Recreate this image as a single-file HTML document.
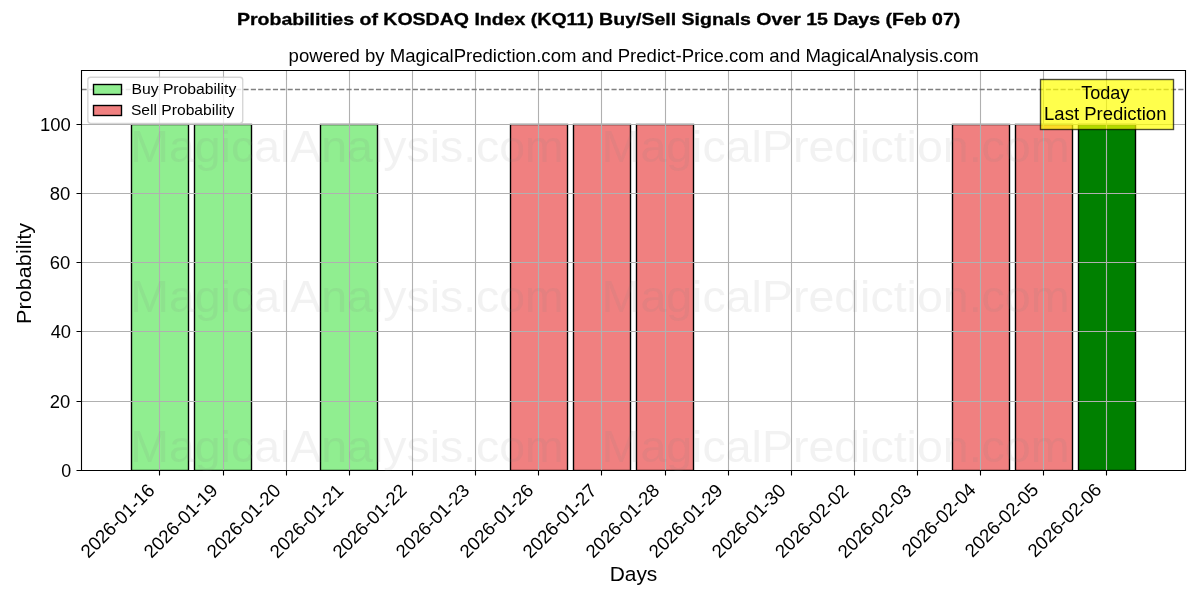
<!DOCTYPE html>
<html><head><meta charset="utf-8"><title>Probabilities of KOSDAQ Index (KQ11) Buy/Sell Signals</title>
<style>
html,body{margin:0;padding:0;background:#fff;width:1200px;height:600px;overflow:hidden}
svg{display:block;will-change:transform}
svg text{font-family:"Liberation Sans",sans-serif}
</style></head>
<body>
<svg width="1200" height="600" viewBox="0 0 1200 600">
<defs><clipPath id="ax"><rect x="81" y="70" width="1104" height="400"/></clipPath></defs>
<rect width="1200" height="600" fill="#fff"/>
<rect x="131.5" y="124.5" width="57" height="346" fill="#90ee90" stroke="#000" stroke-width="1.389" clip-path="url(#ax)"/>
<rect x="194.5" y="124.5" width="57" height="346" fill="#90ee90" stroke="#000" stroke-width="1.389" clip-path="url(#ax)"/>
<rect x="320.5" y="124.5" width="57" height="346" fill="#90ee90" stroke="#000" stroke-width="1.389" clip-path="url(#ax)"/>
<rect x="510.5" y="124.5" width="57" height="346" fill="#f08080" stroke="#000" stroke-width="1.389" clip-path="url(#ax)"/>
<rect x="573.5" y="124.5" width="57" height="346" fill="#f08080" stroke="#000" stroke-width="1.389" clip-path="url(#ax)"/>
<rect x="636.5" y="124.5" width="57" height="346" fill="#f08080" stroke="#000" stroke-width="1.389" clip-path="url(#ax)"/>
<rect x="952.5" y="124.5" width="57" height="346" fill="#f08080" stroke="#000" stroke-width="1.389" clip-path="url(#ax)"/>
<rect x="1015.5" y="124.5" width="57" height="346" fill="#f08080" stroke="#000" stroke-width="1.389" clip-path="url(#ax)"/>
<rect x="1078.5" y="124.5" width="57" height="346" fill="#008000" stroke="#000" stroke-width="1.389" clip-path="url(#ax)"/>
<path d="M159.5 470.5V70.5M223.5 470.5V70.5M286.5 470.5V70.5M349.5 470.5V70.5M412.5 470.5V70.5M475.5 470.5V70.5M538.5 470.5V70.5M601.5 470.5V70.5M665.5 470.5V70.5M728.5 470.5V70.5M791.5 470.5V70.5M854.5 470.5V70.5M917.5 470.5V70.5M980.5 470.5V70.5M1043.5 470.5V70.5M1106.5 470.5V70.5M81.5 470.5H1185.5M81.5 401.5H1185.5M81.5 331.5H1185.5M81.5 262.5H1185.5M81.5 193.5H1185.5M81.5 124.5H1185.5" stroke="#b0b0b0" stroke-width="1.111" stroke-linecap="square" fill="none" clip-path="url(#ax)"/>
<path d="M81.5 89.5H1185.5" stroke="#808080" stroke-width="1.389" stroke-dasharray="5.139 2.222" fill="none" clip-path="url(#ax)"/>
<path d="M81.5 470.5V70.5M1185.5 470.5V70.5M81.5 470.5H1185.5M81.5 70.5H1185.5" stroke="#000" stroke-width="1.111" stroke-linecap="square" fill="none"/>
<path d="M159.5 470V475.5M223.5 470V475.5M286.5 470V475.5M349.5 470V475.5M412.5 470V475.5M475.5 470V475.5M538.5 470V475.5M601.5 470V475.5M665.5 470V475.5M728.5 470V475.5M791.5 470V475.5M854.5 470V475.5M917.5 470V475.5M980.5 470V475.5M1043.5 470V475.5M1106.5 470V475.5M81 470.5H76.5M81 401.5H76.5M81 331.5H76.5M81 262.5H76.5M81 193.5H76.5M81 124.5H76.5" stroke="#000" stroke-width="1.111" fill="none"/>
<text id="yt0" transform="translate(66.25 470.50) scale(1.0737 1.1004) translate(-4.65 5.70)" font-size="16.667" fill="#000">0</text>
<text id="yt20" transform="translate(60.00 401.50) scale(1.1041 1.0753) translate(-9.35 5.75)" font-size="16.667" fill="#000">20</text>
<text id="yt40" transform="translate(60.75 331.50) scale(1.1021 1.0684) translate(-9.15 5.70)" font-size="16.667" fill="#000">40</text>
<text id="yt60" transform="translate(60.00 262.50) scale(1.1074 1.0684) translate(-9.35 5.70)" font-size="16.667" fill="#000">60</text>
<text id="yt80" transform="translate(60.00 193.50) scale(1.1085 1.0684) translate(-9.30 5.70)" font-size="16.667" fill="#000">80</text>
<text id="yt100" transform="translate(55.75 124.50) scale(1.1080 1.1325) translate(-14.20 5.70)" font-size="16.667" fill="#000">100</text>
<text id="xt0" transform="translate(117.50 520.75) rotate(-45) scale(1.1188 1.1388) translate(-42.65 5.75)" font-size="16.667" fill="#000">2026-01-16</text>
<text id="xt1" transform="translate(180.75 520.75) rotate(-45) scale(1.1173 1.1230) translate(-42.65 5.75)" font-size="16.667" fill="#000">2026-01-19</text>
<text id="xt2" transform="translate(243.75 520.75) rotate(-45) scale(1.1168 1.1230) translate(-42.70 5.75)" font-size="16.667" fill="#000">2026-01-20</text>
<text id="xt3" transform="translate(306.50 521.00) rotate(-45) scale(1.1143 1.1230) translate(-42.60 5.75)" font-size="16.667" fill="#000">2026-01-21</text>
<text id="xt4" transform="translate(369.50 521.00) rotate(-45) scale(1.1240 1.1071) translate(-42.60 5.75)" font-size="16.667" fill="#000">2026-01-22</text>
<text id="xt5" transform="translate(432.50 520.75) rotate(-45) scale(1.1154 1.0912) translate(-42.65 5.75)" font-size="16.667" fill="#000">2026-01-23</text>
<text id="xt6" transform="translate(496.50 520.75) rotate(-45) scale(1.1188 1.1071) translate(-42.65 5.75)" font-size="16.667" fill="#000">2026-01-26</text>
<text id="xt7" transform="translate(559.50 521.00) rotate(-45) scale(1.1157 1.1388) translate(-42.60 5.75)" font-size="16.667" fill="#000">2026-01-27</text>
<text id="xt8" transform="translate(622.50 520.75) rotate(-45) scale(1.1177 1.1071) translate(-42.65 5.75)" font-size="16.667" fill="#000">2026-01-28</text>
<text id="xt9" transform="translate(685.75 520.75) rotate(-45) scale(1.1173 1.1230) translate(-42.65 5.75)" font-size="16.667" fill="#000">2026-01-29</text>
<text id="xt10" transform="translate(748.75 520.75) rotate(-45) scale(1.1168 1.1230) translate(-42.70 5.75)" font-size="16.667" fill="#000">2026-01-30</text>
<text id="xt11" transform="translate(811.75 521.00) rotate(-45) scale(1.1128 1.1230) translate(-42.60 5.75)" font-size="16.667" fill="#000">2026-02-02</text>
<text id="xt12" transform="translate(874.50 521.00) rotate(-45) scale(1.1154 1.1230) translate(-42.65 5.75)" font-size="16.667" fill="#000">2026-02-03</text>
<text id="xt13" transform="translate(938.75 519.75) rotate(-45) scale(1.1161 1.1230) translate(-42.80 5.75)" font-size="16.667" fill="#000">2026-02-04</text>
<text id="xt14" transform="translate(1001.50 520.00) rotate(-45) scale(1.1140 1.1230) translate(-42.65 5.75)" font-size="16.667" fill="#000">2026-02-05</text>
<text id="xt15" transform="translate(1064.50 520.00) rotate(-45) scale(1.1188 1.1071) translate(-42.65 5.75)" font-size="16.667" fill="#000">2026-02-06</text>
<text id="xlab" transform="translate(634.00 576.00) scale(1.0765 1.0628) translate(-22.60 4.70)" font-size="19.444" fill="#000">Days</text>
<text id="ylab" transform="translate(25.50 272.50) rotate(-90) scale(1.1143 1.0709) translate(-46.15 5.05)" font-size="19.444" fill="#000">Probability</text>
<rect x="1040.5" y="79.5" width="133" height="50" fill="#ff0" fill-opacity="0.7" stroke="#000" stroke-opacity="0.7" stroke-width="1.389"/>
<text id="tb0" transform="translate(1105.50 94.50) scale(1.0853 1.1426) translate(-22.40 4.30)" font-size="16.667" fill="#000">Today</text>
<text id="tb1" transform="translate(1105.50 113.50) scale(1.1109 1.0961) translate(-55.30 5.95)" font-size="16.667" fill="#000">Last Prediction</text>
<text id="title" transform="translate(633.75 57.50) scale(1.1139 1.0650) translate(-309.85 4.30)" font-size="16.667" fill="#000">powered by MagicalPrediction.com and Predict-Price.com and MagicalAnalysis.com</text>
<rect x="87.847" y="77.278" width="154.875" height="46.056" rx="2.7778" fill="#fff" fill-opacity="0.8" stroke="#ccc" stroke-opacity="0.8" stroke-width="1.389"/>
<rect x="93.5" y="84.5" width="28" height="10" fill="#90ee90" stroke="#000" stroke-width="1.389"/>
<rect x="93.5" y="105.5" width="28" height="10" fill="#f08080" stroke="#000" stroke-width="1.389"/>
<text id="legBuy" transform="translate(184.50 90.00) scale(1.1322 1.0650) translate(-46.85 3.60)" font-size="13.889" fill="#000">Buy Probability</text>
<text id="legSel" transform="translate(183.00 111.00) scale(1.1259 1.0495) translate(-46.25 3.60)" font-size="13.889" fill="#000">Sell Probability</text>
<text id="sup" transform="translate(599.00 21.00) scale(1.1717 1.0423) translate(-309.00 4.30)" font-size="16.667" font-weight="bold" fill="#000" stroke="#000" stroke-width="0.32">Probabilities of KOSDAQ Index (KQ11) Buy/Sell Signals Over 15 Days (Feb 07)</text>
<text id="wm0" transform="translate(347.50 150.50) scale(1.1147 1.0520) translate(-194.85 10.80)" font-size="41.667" fill="#808080" fill-opacity="0.1">MagicalAnalysis.com</text>
<text id="wm1" transform="translate(836.00 150.50) scale(1.1165 1.0647) translate(-209.90 10.80)" font-size="41.667" fill="#808080" fill-opacity="0.1">MagicalPrediction.com</text>
<text id="wm2" transform="translate(347.50 300.50) scale(1.1147 1.0520) translate(-194.85 10.80)" font-size="41.667" fill="#808080" fill-opacity="0.1">MagicalAnalysis.com</text>
<text id="wm3" transform="translate(836.00 300.50) scale(1.1165 1.0647) translate(-209.90 10.80)" font-size="41.667" fill="#808080" fill-opacity="0.1">MagicalPrediction.com</text>
<text id="wm4" transform="translate(347.50 450.50) scale(1.1147 1.0520) translate(-194.85 10.80)" font-size="41.667" fill="#808080" fill-opacity="0.1">MagicalAnalysis.com</text>
<text id="wm5" transform="translate(836.00 450.50) scale(1.1165 1.0647) translate(-209.90 10.80)" font-size="41.667" fill="#808080" fill-opacity="0.1">MagicalPrediction.com</text>
</svg>
</body></html>
